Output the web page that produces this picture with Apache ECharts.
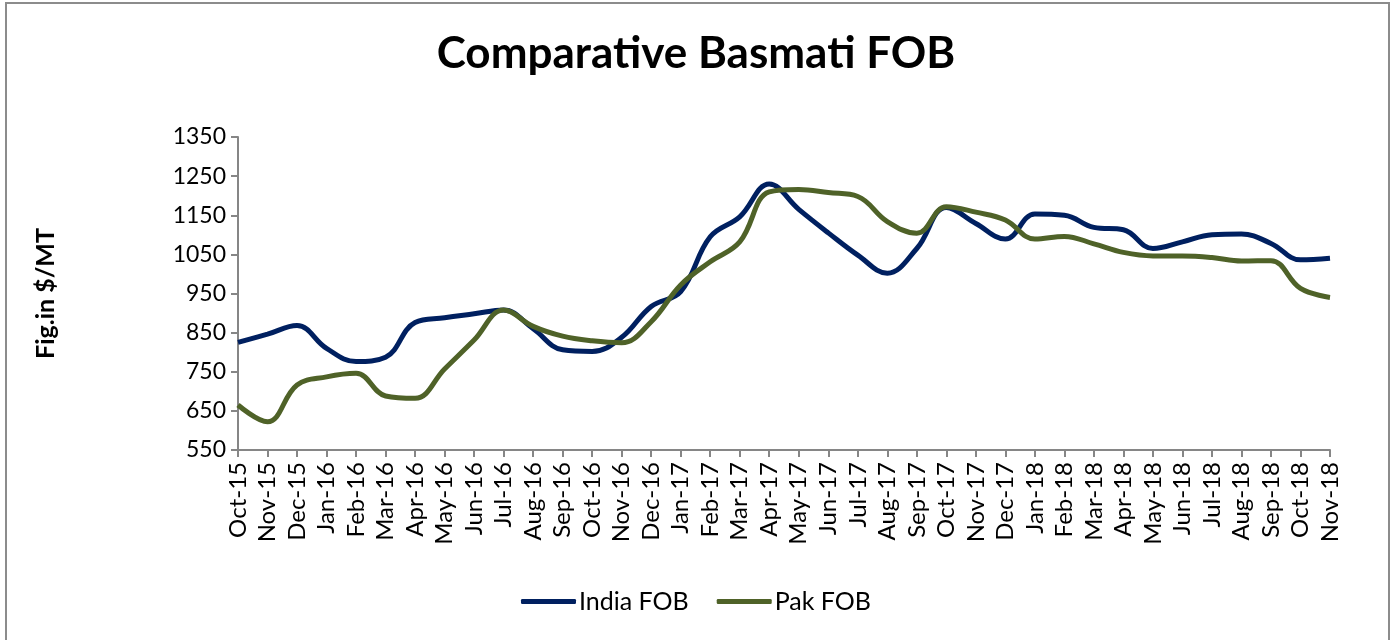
<!doctype html>
<html>
<head>
  <meta charset="utf-8">
  <title>index</title>
  <script src="https://cdn.jsdelivr.net/npm/echarts@6/dist/echarts.min.js"></script>
  <style>
    html, body { margin: 0; padding: 0; background: #fff; }
    .box { position: absolute; left: 5px; top: 2px; width: 1381px; height: 700px; border: 2px solid #8c8c8c; }
    #main { position: absolute; left: 0; top: 0; width: 1392px; height: 640px; }
  </style>
</head>
<body>
  <div class="box"></div>
  <div id="main"></div>
  <script>
    // months Oct-15 .. Nov-18
    var months = ['Oct-15', 'Nov-15', 'Dec-15', 'Jan-16', 'Feb-16', 'Mar-16', 'Apr-16', 'May-16', 'Jun-16', 'Jul-16',
      'Aug-16', 'Sep-16', 'Oct-16', 'Nov-16', 'Dec-16', 'Jan-17', 'Feb-17', 'Mar-17', 'Apr-17', 'May-17',
      'Jun-17', 'Jul-17', 'Aug-17', 'Sep-17', 'Oct-17', 'Nov-17', 'Dec-17', 'Jan-18', 'Feb-18', 'Mar-18',
      'Apr-18', 'May-18', 'Jun-18', 'Jul-18', 'Aug-18', 'Sep-18', 'Oct-18', 'Nov-18'];
    var indiaFob = [825, 846, 868, 810, 776, 787, 876, 888, 898, 908,
      860, 806, 802, 838, 917, 955, 1095, 1146, 1230, 1165,
      1105, 1048, 1002, 1065, 1170, 1129, 1089, 1153, 1150, 1119,
      1113, 1065, 1082, 1100, 1102, 1078, 1036, 1040];
    var pakFob = [665, 622, 716, 737, 746, 688, 682, 757, 831, 908,
      866, 841, 829, 824, 878, 972, 1031, 1082, 1210, 1216,
      1208, 1198, 1134, 1104, 1172, 1158, 1138, 1089, 1096, 1077,
      1055, 1046, 1046, 1042, 1033, 1034, 963, 940];

    var chart = echarts.init(document.getElementById('main'));
    var font = 'Lato';
    chart.setOption({
      backgroundColor: 'transparent',
      animation: false,
      title: {
        text: 'Comparative Basmati FOB',
        left: 'center',
        top: 27,
        textStyle: { fontFamily: font, fontWeight: 'bold', fontSize: 44, color: '#000' }
      },
      legend: {
        bottom: 21,
        left: 'center',
        itemWidth: 55,
        itemHeight: 5,
        itemGap: 28,
        icon: 'roundRect',
        textStyle: { fontFamily: font, fontSize: 25, color: '#000', padding: [0, 0, 0, -2] },
        data: ['India FOB', 'Pak FOB']
      },
      grid: { left: 238, right: 62, top: 137, bottom: 190 },
      xAxis: {
        type: 'category',
        data: months,
        boundaryGap: false,
        axisLine: { lineStyle: { color: '#868686', width: 2 } },
        axisTick: { show: true, length: 7, lineStyle: { color: '#868686', width: 2 } },
        axisLabel: { rotate: 90, interval: 0, margin: 12, fontFamily: font, fontSize: 24, color: '#000' }
      },
      yAxis: {
        type: 'value',
        min: 550,
        max: 1350,
        interval: 100,
        name: 'Fig.in $/MT',
        nameLocation: 'middle',
        nameGap: 180,
        nameTextStyle: { fontFamily: font, fontWeight: 'bold', fontSize: 25, color: '#000' },
        axisLine: { show: true, lineStyle: { color: '#868686', width: 2 } },
        axisTick: { show: true, length: 7, lineStyle: { color: '#868686', width: 2 } },
        splitLine: { show: false },
        axisLabel: {
          margin: 12, fontFamily: font, fontSize: 23, color: '#000',
          formatter: function (v) { return String(v); }
        }
      },
      series: [
        {
          name: 'India FOB',
          type: 'line',
          data: indiaFob,
          smooth: 0.4,
          symbol: 'none',
          itemStyle: { color: '#002060' },
          lineStyle: { color: '#002060', width: 5 }
        },
        {
          name: 'Pak FOB',
          type: 'line',
          data: pakFob,
          smooth: 0.4,
          symbol: 'none',
          itemStyle: { color: '#4F6228' },
          lineStyle: { color: '#4F6228', width: 5 }
        }
      ]
    });
  </script>
</body>
</html>
